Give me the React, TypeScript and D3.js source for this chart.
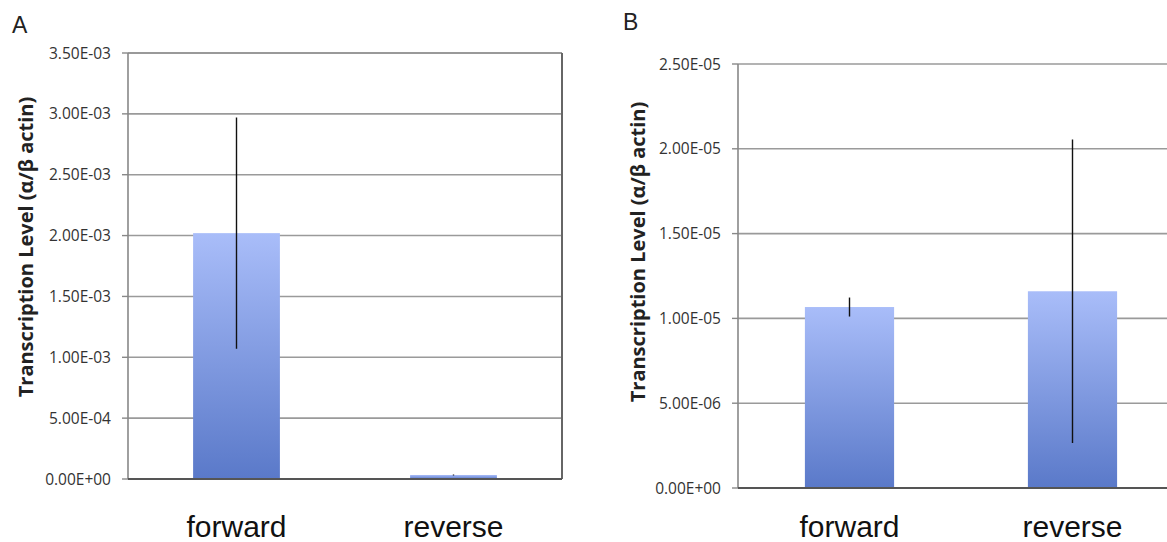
import React from "react";
import * as d3 from "d3";

const categories = ["forward", "reverse"];

const valuesA = [2.02e-3, 3.3e-5];
const errorsA = [0.95e-3, 0.4e-5];
const ticksA = [0, 5e-4, 1e-3, 1.5e-3, 2e-3, 2.5e-3, 3e-3, 3.5e-3];
const tickLabelsA = ["0.00E+00", "5.00E-04", "1.00E-03", "1.50E-03", "2.00E-03", "2.50E-03", "3.00E-03", "3.50E-03"];

const valuesB = [1.067e-5, 1.16e-5];
const errorsB = [0.056e-5, 0.895e-5];
const ticksB = [0, 5e-6, 1e-5, 1.5e-5, 2e-5, 2.5e-5];
const tickLabelsB = ["0.00E+00", "5.00E-06", "1.00E-05", "1.50E-05", "2.00E-05", "2.50E-05"];

const yTitle = "Transcription Level (α/β actin)";

type PanelProps = {
  id: string;
  letter: string;
  letterX: number;
  letterY: number;
  x0: number;
  x1: number;
  y0: number;
  y1: number;
  max: number;
  values: number[];
  errors: number[];
  ticks: number[];
  tickLabels: string[];
  titleX: number;
  titleY: number;
  frame: boolean;
};

function Panel(p: PanelProps) {
  const x = d3.scaleBand<string>().domain(categories).range([p.x0, p.x1]).paddingInner(0.6).paddingOuter(0.3);
  const y = d3.scaleLinear().domain([0, p.max]).range([p.y0, p.y1]);
  const bw = x.bandwidth();
  return (
    <g>
      <defs>
        <linearGradient id={"grad" + p.id} x1="0" y1="0" x2="0" y2="1">
          <stop offset="0%" stopColor="#a9bdf9" />
          <stop offset="100%" stopColor="#5a79c9" />
        </linearGradient>
      </defs>
      <text x={p.letterX} y={p.letterY} fontFamily="Liberation Sans, Arial, sans-serif" fontSize={23} fill="#222">
        {p.letter}
      </text>
      {p.ticks.map((t, i) => (
        <g key={i}>
          {i > 0 && (
            <line x1={p.x0} x2={p.frame ? p.x1 : 1167} y1={y(t)} y2={y(t)} stroke={p.frame && i === p.ticks.length - 1 ? "#777" : "#9a9a9a"} strokeWidth={1.6} />
          )}
          <line x1={p.x0 - 6} x2={p.x0} y1={y(t)} y2={y(t)} stroke="#888" strokeWidth={1.4} />
          <text x={p.x0 - 17} y={y(t)} dy="0.36em" textAnchor="end" fontFamily="Open Sans, sans-serif" fontSize={15.5} fill="#333">
            {p.tickLabels[i]}
          </text>
        </g>
      ))}
      {p.frame && <line x1={p.x1} x2={p.x1} y1={p.y1} y2={p.y0} stroke="#666" strokeWidth={2} />}
      {categories.map((c, i) => {
        const top = y(p.values[i]);
        return (
          <g key={c}>
            <rect x={x(c)} y={top} width={bw} height={p.y0 - top} fill={`url(#grad${p.id})`} />
            <line
              x1={(x(c) as number) + bw / 2}
              x2={(x(c) as number) + bw / 2}
              y1={y(p.values[i] + p.errors[i])}
              y2={y(Math.max(0, p.values[i] - p.errors[i]))}
              stroke="#111"
              strokeWidth={1.4}
            />
            <text x={(x(c) as number) + bw / 2} y={537} textAnchor="middle" fontFamily="Liberation Sans, Arial, sans-serif" fontSize={30} fill="#111">
              {c}
            </text>
          </g>
        );
      })}
      <line x1={p.x0} x2={p.x0} y1={p.y1} y2={p.y0} stroke="#888" strokeWidth={1.6} />
      <line x1={p.x0} x2={p.frame ? p.x1 : 1167} y1={p.y0} y2={p.y0} stroke="#555" strokeWidth={2} />
      <text
        transform={`translate(${p.titleX},${p.titleY}) rotate(-90)`}
        textAnchor="middle"
        fontFamily="Open Sans, sans-serif"
        fontWeight="bold"
        fontSize={20}
        fill="#222"
      >
        {yTitle}
      </text>
    </g>
  );
}

export default function App() {
  return (
    <svg width={1167} height={542} style={{ position: "absolute", left: 0, top: 0, background: "#fff" }}>
      <rect width={1167} height={542} fill="#fff" />
      <Panel
        id="A"
        letter="A"
        letterX={12}
        letterY={33}
        x0={128}
        x1={562}
        y0={479}
        y1={53}
        max={3.5e-3}
        values={valuesA}
        errors={errorsA}
        ticks={ticksA}
        tickLabels={tickLabelsA}
        titleX={33}
        titleY={247}
        frame={true}
      />
      <Panel
        id="B"
        letter="B"
        letterX={623}
        letterY={30}
        x0={738}
        x1={1184}
        y0={488}
        y1={64}
        max={2.5e-5}
        values={valuesB}
        errors={errorsB}
        ticks={ticksB}
        tickLabels={tickLabelsB}
        titleX={645}
        titleY={252}
        frame={false}
      />
    </svg>
  );
}
